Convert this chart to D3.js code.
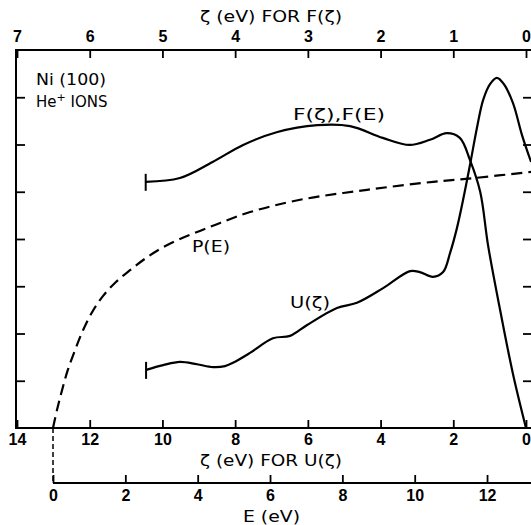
<!DOCTYPE html>
<html><head><meta charset="utf-8">
<script src="https://cdn.jsdelivr.net/npm/d3@7"></script>
<style>body{margin:0;background:#fff} svg{display:block}</style>
</head><body><svg id="c" width="531" height="525"></svg>
<script>
// ---- data ----
const zetaFTicks = [7,6,5,4,3,2,1,0];
const zetaUTicks = [14,12,10,8,6,4,2,0];
const eTicks = [0,2,4,6,8,10,12];
const yTicks = [1,2,3,4,5,6,7];

// F(zeta): zeta (eV, top axis) and intensity (arb.)
const fZeta = [5.23,4.76,4.31,3.89,3.43,2.87,2.42,1.97,1.60,1.32,1.09,0.91,0.77,0.63,0.52,0.35,0.18,0.0];
const fVal  = [5.21,5.29,5.63,5.99,6.26,6.41,6.39,6.14,5.99,6.10,6.24,6.14,5.67,5.00,3.85,2.45,1.15,0.0];

// U(zeta): zeta (eV, bottom axis) and intensity (arb.)
const uZeta = [10.45,9.98,9.52,9.05,8.61,8.28,8.06,7.59,6.96,6.49,6.02,5.20,4.65,3.93,3.19,2.92,2.56,2.28,2.09,1.90,1.73,1.54,1.35,1.18,0.99,0.80,0.61,0.36,0.11,-0.14];
const uVal  = [1.23,1.33,1.40,1.35,1.29,1.31,1.38,1.59,1.90,1.95,2.18,2.54,2.65,2.96,3.32,3.30,3.20,3.30,3.70,4.23,4.83,5.57,6.35,6.94,7.28,7.41,7.28,6.88,6.20,5.63];

// P(E): E (eV) and value (arb.)
const pE   = [0.00,0.11,0.25,0.41,0.61,0.83,1.08,1.38,1.74,2.13,2.54,2.96,3.51,4.06,4.62,5.45,6.83,8.68,10.51,11.64,13.22];
const pVal = [0.00,0.38,0.80,1.23,1.65,2.07,2.45,2.79,3.09,3.34,3.58,3.79,4.00,4.17,4.34,4.57,4.83,5.04,5.21,5.29,5.42];

// ---- layout ----
const svg = d3.select('#c');
const L = 16, T = 50, B = 428, R = 533;
const xF = d3.scaleLinear().domain([7,0]).range([17,526]);
const xU = d3.scaleLinear().domain([14,0]).range([17,526]);
const xE = d3.scaleLinear().domain([0,14]).range([53,53+14*36.17]);
const y  = d3.scaleLinear().domain([0,8]).range([B,T]);
const EY = 483;
const numFont = '"Liberation Sans", Arial, sans-serif';
const txtFont = '"DejaVu Sans", sans-serif';

// frame
svg.append('rect').attr('x',L).attr('y',T).attr('width',R-L).attr('height',B-T)
  .attr('fill','none').attr('stroke','#000').attr('stroke-width',2);

// top axis (zeta for F)
const topAx = svg.append('g').attr('transform',`translate(0,${T})`)
  .call(d3.axisTop(xF).tickValues(zetaFTicks).tickFormat(d3.format('d')).tickSizeInner(-8).tickSizeOuter(0).tickPadding(8));
// bottom axis (zeta for U)
const botAx = svg.append('g').attr('transform',`translate(0,${B})`)
  .call(d3.axisBottom(xU).tickValues(zetaUTicks).tickFormat(d3.format('d')).tickSizeInner(-8).tickSizeOuter(0).tickPadding(6));
// E axis
const eAx = svg.append('g').attr('transform',`translate(0,${EY})`)
  .call(d3.axisBottom(xE).tickValues(eTicks).tickFormat(d3.format('d')).tickSizeInner(-8).tickSizeOuter(0).tickPadding(7));
// left / right ticks
const leftAx = svg.append('g').attr('transform',`translate(${L},0)`)
  .call(d3.axisLeft(y).tickValues(yTicks).tickFormat('').tickSizeInner(-9).tickSizeOuter(0));
const rightAx = svg.append('g').attr('transform',`translate(${R},0)`)
  .call(d3.axisRight(y).tickValues(yTicks).tickFormat('').tickSizeInner(-10).tickSizeOuter(0));

[topAx,botAx,eAx,leftAx,rightAx].forEach(g=>{
  g.select('.domain').remove();
  g.selectAll('line').attr('stroke','#000').attr('stroke-width',1.8);
  g.selectAll('text').attr('font-family',numFont).attr('font-size',16).attr('font-weight','bold').attr('fill','#000');
});
// E axis line
svg.append('line').attr('x1',xE(0)).attr('x2',560).attr('y1',EY).attr('y2',EY)
  .attr('stroke','#000').attr('stroke-width',2);
// dashed connector E=0
svg.append('line').attr('x1',xE(0)).attr('x2',xE(0)).attr('y1',B).attr('y2',EY)
  .attr('stroke','#000').attr('stroke-width',1.5).attr('stroke-dasharray','5,3');

// curves
const curve = d3.curveCatmullRom.alpha(0.5);
const fLine = d3.line().x(d=>xF(d[0])).y(d=>y(d[1])).curve(curve);
const uLine = d3.line().x(d=>xU(d[0])).y(d=>y(d[1])).curve(curve);
const pLine = d3.line().x(d=>xE(d[0])).y(d=>y(d[1])).curve(curve);

svg.append('path').attr('d',fLine(d3.zip(fZeta,fVal))).attr('fill','none').attr('stroke','#000').attr('stroke-width',2.2);
svg.append('path').attr('d',uLine(d3.zip(uZeta,uVal))).attr('fill','none').attr('stroke','#000').attr('stroke-width',2.2);
svg.append('path').attr('d',pLine(d3.zip(pE,pVal))).attr('fill','none').attr('stroke','#000').attr('stroke-width',2.2)
  .attr('stroke-dasharray','11,6');

// end caps
svg.append('line').attr('x1',xF(fZeta[0])).attr('x2',xF(fZeta[0])).attr('y1',y(fVal[0])-8).attr('y2',y(fVal[0])+9)
  .attr('stroke','#000').attr('stroke-width',2);
svg.append('line').attr('x1',xU(uZeta[0])).attr('x2',xU(uZeta[0])).attr('y1',y(uVal[0])-8).attr('y2',y(uVal[0])+9)
  .attr('stroke','#000').attr('stroke-width',2);

// text labels
function label(txt,x,yy,len,anchor,size){
  return svg.append('text').attr('x',x).attr('y',yy).text(txt)
    .attr('font-family',txtFont).attr('font-size',size||15).attr('fill','#000')
    .attr('text-anchor',anchor||'start').attr('textLength',len).attr('lengthAdjust','spacingAndGlyphs');
}
label('ζ (eV) FOR F(ζ)',200,22,142);
label('ζ (eV) FOR U(ζ)',200,466,142);
label('E (eV)',243,522,57);
label('Ni (100)',36,85,70);
const he = svg.append('text').attr('x',36).attr('y',107).attr('font-family',txtFont).attr('font-size',15).attr('fill','#000');
he.append('tspan').text('He');
he.append('tspan').text('+').attr('font-size',11).attr('dy',-6);
he.append('tspan').text(' IONS').attr('dy',6);
label('F(ζ),F(E)',293,120,92);
label('P(E)',192,252,38);
label('U(ζ)',290,308,40);
</script></body></html>
